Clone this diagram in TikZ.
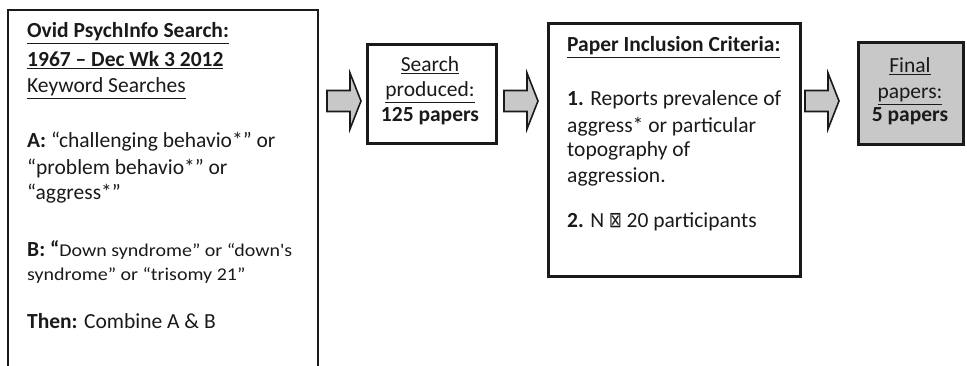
\documentclass[tikz,border=0pt]{standalone}
\usepackage{fontspec}
\usepackage{graphicx}
\setmainfont{Carlito}
\newfontfamily\symfont{DejaVu Sans}
\newfontfamily\widefont[FakeStretch=1.11]{Carlito}
\definecolor{boxgray}{HTML}{C8C8C8}
\definecolor{ink}{HTML}{1A1A1A}
\begin{document}
\begin{tikzpicture}[x=1pt,y=-1pt,
  box/.style={draw=ink,line width=2.6pt},
  txt/.style={inner sep=0pt,text=ink,font=\fontsize{21.5}{26}\selectfont},
  lt/.style={txt,anchor=base west},
  ct/.style={txt,anchor=base},
  smalltxt/.style={font=\widefont\fontsize{18}{22}\selectfont},
  barrow/.pic={\draw[draw=ink,line width=1.6pt,fill=boxgray,line join=miter]
     (-17,-10.5) -- (6,-10.5) -- (6,-28) -- (17,0) -- (6,28) -- (6,10.5) -- (-17,10.5) -- cycle;}
]
\useasboundingbox (0,0) rectangle (967,366);
\begin{scope}
\clip (0,0) rectangle (967,366);
% boxes
\draw[box] (8,10) rectangle (318,390);
\node[box,anchor=north west,minimum width=129pt,minimum height=99pt,inner sep=0pt] (b2) at (366,43) {};
\node[box,anchor=north west,minimum width=252pt,minimum height=253pt,inner sep=0pt] (b3) at (547,22) {};
\node[box,fill=boxgray,anchor=north west,minimum width=105pt,minimum height=102pt,inner sep=0pt] (b4) at (857,41) {};
\end{scope}
% block arrows
\pic at (344,101) {barrow};
\pic at (521,101) {barrow};
\pic at (822,101) {barrow};
% box 1 text
\node[lt] (l1) at (27,38) {\textbf{\underline{Ovid PsychInfo Search:}}};
\node[lt] (l2) at (27,67) {\textbf{\underline{1967 – Dec Wk 3 2012}}};
\node[lt] (l3) at (27,93) {\underline{Keyword Searches}};
\node[lt] (l4) at (27,148) {\textbf{A:} “challenging behavio*” or};
\node[lt] (l5) at (27,175) {“problem behavio*” or};
\node[lt] (l6) at (27,200) {“aggress*”};
\node[lt] (l7) at (27,257) {\textbf{B: “}{\widefont\fontsize{18}{22}\selectfont Down syndrome” or “down's}};
\node[lt,smalltxt] (l8) at (27,280) {syndrome” or “trisomy 21”};
\node[lt] (l9) at (27,328) {\textbf{Then:} Combine A \& B};
% box 2 text
\node[ct] (s1) at (430,72) {\underline{Search}};
\node[ct] (s2) at (430,97) {\underline{produced:}};
\node[ct] (s3) at (430,122) {\textbf{125 papers}};
% box 3 text
\node[lt] (p1) at (567,52) {\textbf{\underline{Paper Inclusion Criteria:}}};
\node[lt] (p2) at (567,106) {\textbf{1.} Reports prevalence of};
\node[lt] (p3) at (567,133) {aggress* or particular};
\node[lt] (p4) at (567,157) {topography of};
\node[lt] (p5) at (567,183) {aggression.};
\node[lt] (p6) at (567,228) {\textbf{2.} N \scalebox{0.8}[1.15]{\symfont\fontsize{19}{22}\selectfont ⊠} 20 participants};
% box 4 text
\node[ct] (f1) at (910,73) {\underline{Final}};
\node[ct] (f2) at (910,99) {\underline{papers:}};
\node[ct] (f3) at (910,122) {\textbf{5 papers}};
\end{tikzpicture}
\end{document}
